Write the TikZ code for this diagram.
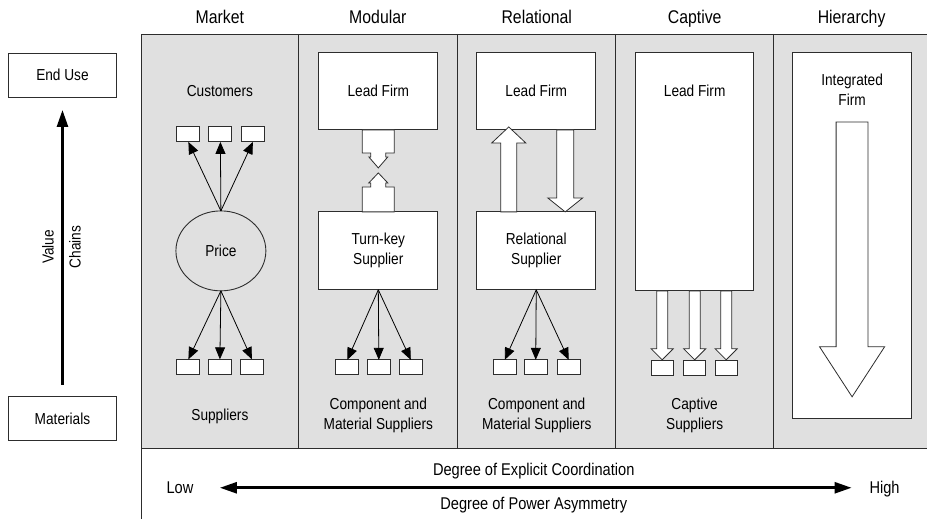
\documentclass[tikz,border=0pt]{standalone}
\usepackage{fontspec}
\setmainfont{Liberation Sans}[FakeStretch=0.86]
\usetikzlibrary{arrows.meta,shapes.geometric}
\definecolor{panelgray}{RGB}{224,224,224}
\definecolor{edge}{RGB}{45,45,45}

% hollow block arrow: start point, half shaft width, half head width,
% head length, shaft length (negative lengths point upwards)
\newcommand\fatarrow[5]{%
  \draw[fat] (#1) ++(-#2,0) -- ++(0,#5) -- ++({#2-#3},0) -- ++(#3,#4)
    -- ++(#3,{-(#4)}) -- ++({#2-#3},0) -- ++(0,{-(#5)}) -- cycle;}

\begin{document}
\begin{tikzpicture}[x=1pt,y=-1pt,
  txt/.style={font=\fontsize{15.9}{20}\selectfont,align=center,inner sep=0pt},
  title/.style={font=\fontsize{18.4}{20}\selectfont,inner sep=0pt,anchor=base},
  axis/.style={font=\fontsize{17}{20}\selectfont,inner sep=0pt},
  box/.style={draw=edge,line width=0.9pt,fill=white,inner sep=0pt,outer sep=0pt,
    minimum width=#1},
  firm/.style={box=119pt,minimum height=78pt,txt},
  mini/.style={box=23pt,minimum height=15pt},
  fat/.style={draw=edge,fill=white,line width=0.8pt,line join=miter},
  thin/.style={draw=black,line width=0.8pt,-{Triangle[length=12pt,width=10pt]}},
  bold/.style={draw=black,line width=2.6pt},
  panel/.style={draw=edge,line width=0.9pt}]

% canvas
\fill[white] (0,0) rectangle (927,519);

% governance panel and its columns
\fill[panelgray] (142,34) rectangle (927,449);
\draw[panel] (927,34) -- (142,34) -- (142,519);
\draw[panel] (142,449) -- (927,449);
\foreach \x in {299,458,616,774} \draw[panel] (\x,34) -- (\x,449);

% column titles
\node[title] (tmarket) at (220,24) {Market};
\node[title] (tmodular) at (378,24) {Modular};
\node[title] (trelational) at (537,24) {Relational};
\node[title] (tcaptive) at (695,24) {Captive};
\node[title] (thierarchy) at (852,24) {Hierarchy};

% value chain axis
\node[box=109pt,minimum height=44pt,txt] (enduse) at (62.5,75) {End Use};
\node[box=109pt,minimum height=44pt,txt] (materials) at (62.5,419) {Materials};
\draw[bold,shorten <=12pt,shorten >=13pt,-{Triangle[length=17pt,width=11pt]}]
  (materials.north) -- (enduse.south);
\node[txt,rotate=90] (value) at (48,247) {Value};
\node[txt,rotate=90] (chains) at (75,247) {Chains};

% Market
\node[txt] (customers) at (220,91) {Customers};
\node[mini] (c1) at (188.5,134.5) {};
\node[mini] (c2) at (220.5,134.5) {};
\node[mini] (c3) at (253,134.5) {};
\node[ellipse,draw=edge,line width=0.9pt,fill=panelgray,minimum width=90pt,
  minimum height=80pt,inner sep=0pt,outer sep=0pt,txt] (price) at (221,251) {Price};
\node[mini] (s1) at (188.5,367) {};
\node[mini] (s2) at (220,367) {};
\node[mini] (s3) at (252,367) {};
\foreach \b in {c1,c2,c3} \draw[thin] (price.north) -- (\b.south);
\foreach \b in {s1,s2,s3} \draw[thin] (price.south) -- (\b.north);
\node[txt] (suppliers) at (220,417) {Suppliers};

% Modular
\node[firm] (lf1) at (378.5,91) {Lead Firm};
\node[firm] (tk) at (378.5,251) {Turn-key\\Supplier};
\draw[fat] (lf1.south) ++(-16,0) -- ++(0,23) -- ++(8.5,0) -- ++(0,4) -- ++(-2,0)
  -- ++(9.5,11) -- ++(9.5,-11) -- ++(-2,0) -- ++(0,-4) -- ++(8.5,0) -- ++(0,-23) -- cycle;
\draw[fat] (tk.north) ++(-16,0) -- ++(0,-25) -- ++(8.5,0) -- ++(0,-4) -- ++(-2,0)
  -- ++(9.5,-10) -- ++(9.5,10) -- ++(-2,0) -- ++(0,4) -- ++(8.5,0) -- ++(0,25) -- cycle;
\node[mini] (m1) at (347.5,367.5) {};
\node[mini] (m2) at (379,367.5) {};
\node[mini] (m3) at (411,367.5) {};
\foreach \b in {m1,m2,m3} \draw[thin] (tk.south) -- (\b.north);
\node[txt] (modsup) at (378.5,416) {Component and\\Material Suppliers};

% Relational
\node[firm] (lf2) at (536.5,91) {Lead Firm};
\node[firm] (rs) at (536.5,251) {Relational\\Supplier};
\fatarrow{[xshift=32pt]rs.north west}{8}{17}{-16}{-69}
\fatarrow{[xshift=88.5pt]lf2.south west}{8.5}{17.5}{14}{68}
\node[mini] (r1) at (505,367.5) {};
\node[mini] (r2) at (536,367.5) {};
\node[mini] (r3) at (569,367.5) {};
\foreach \b in {r1,r2,r3} \draw[thin] (rs.south) -- (\b.north);
\node[txt] (relsup) at (537,416) {Component and\\Material Suppliers};

% Captive
\node[box=118pt,minimum height=239pt] (lf3) at (695,171.5) {};
\node[txt] (lf3label) at (695,91) {Lead Firm};
\fatarrow{[xshift=26.5pt]lf3.south west}{5.5}{11}{11}{58}
\fatarrow{lf3.south}{5.5}{11}{11}{58}
\fatarrow{[xshift=90.5pt]lf3.south west}{5.5}{11}{11}{58}
\node[box=22pt,minimum height=15pt] (k1) at (663,368.5) {};
\node[box=22pt,minimum height=15pt] (k2) at (695,368.5) {};
\node[box=22pt,minimum height=15pt] (k3) at (726.5,368.5) {};
\node[txt] (capsup) at (695,416) {Captive\\Suppliers};

% Hierarchy
\node[box=119pt,minimum height=367pt] (hf) at (852.5,235.5) {};
\node[txt] (hflabel) at (852.5,90) {Integrated\\Firm};
\coordinate (hfflow) at (852.5,122);
\fatarrow{hfflow}{16}{32.5}{50}{225}

% coordination / power axis
\node[axis] (coord) at (534,471) {Degree of Explicit Coordination};
\node[axis] (power) at (534,505) {Degree of Power Asymmetry};
\node[axis,anchor=base] (low) at (180,494) {Low};
\node[axis,anchor=base] (high) at (885,494) {High};
\coordinate (lowend) at (220,488);
\coordinate (highend) at (852,488);
\draw[bold,{Triangle[length=17pt,width=11pt]}-{Triangle[length=17pt,width=11pt]}]
  (lowend) -- (highend);
\end{tikzpicture}
\end{document}
